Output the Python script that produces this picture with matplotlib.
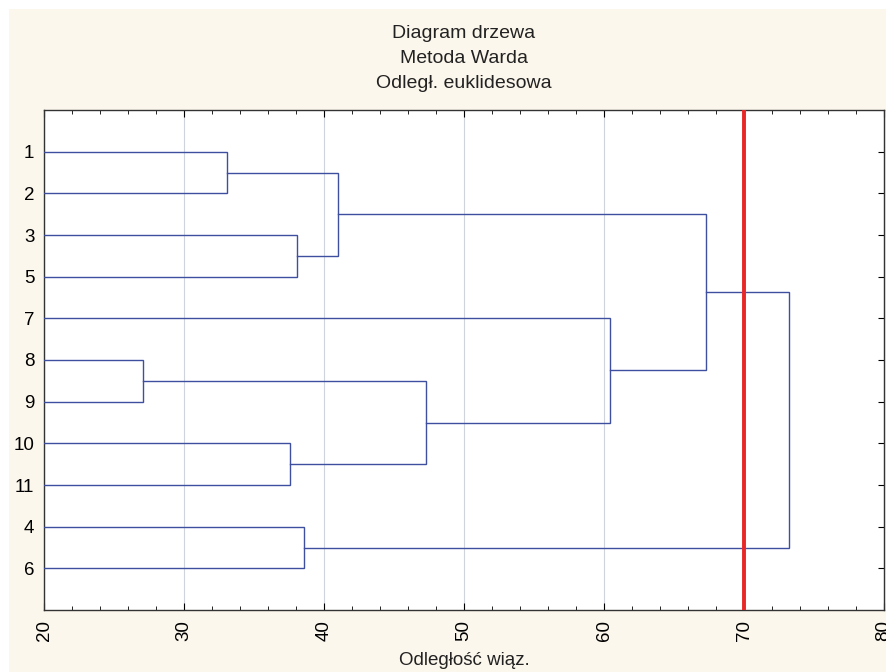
import matplotlib.pyplot as plt
from matplotlib.patches import Rectangle
from matplotlib.ticker import MultipleLocator

plt.rcParams["font.family"] = ["Liberation Sans", "DejaVu Sans"]

leaf_labels = ["1", "2", "3", "5", "7", "8", "9", "10", "11", "4", "6"]

# merges: left node, right node, linkage distance
# nodes: leaf labels or names of earlier merges
merge_names = ["A", "B", "C", "D", "E", "F", "G", "H", "I", "J"]
merge_left = ["1", "3", "A", "8", "10", "D", "7", "C", "4", "H"]
merge_right = ["2", "5", "B", "9", "11", "E", "F", "G", "6", "I"]
merge_dist = [33.1, 38.1, 41.0, 27.1, 37.6, 47.3, 60.4, 67.3, 38.6, 73.2]

cut_level = 70

lineBlue = "#3f4f9f"
cutRed = "#e82828"
cream = "#fcf7ec"

fig = plt.figure(figsize=(8.87, 6.72), dpi=100)
fig.patches.append(Rectangle((9 / 887, 0), 1, 1 - 9 / 672, transform=fig.transFigure,
                             facecolor=cream, edgecolor="none", zorder=-10))
ax = fig.add_axes([44 / 887, 1 - 610 / 672, 840 / 887, 500 / 672])

x_min = 20
pos = {}
height = {}
for i, lab in enumerate(leaf_labels):
    pos[lab] = i + 1
    height[lab] = x_min

for name, l, r, d in zip(merge_names, merge_left, merge_right, merge_dist):
    ax.plot([height[l], d, d, height[r]], [pos[l], pos[l], pos[r], pos[r]],
            color=lineBlue, linewidth=1.0, solid_joinstyle="miter", zorder=3)
    pos[name] = (pos[l] + pos[r]) / 2
    height[name] = d

ax.axvline(cut_level, color=cutRed, linewidth=2.8, zorder=4)

ax.set_xlim(20, 80)
ax.set_ylim(len(leaf_labels) + 1, 0)
ax.set_yticks(range(1, len(leaf_labels) + 1))
ax.set_yticklabels(leaf_labels, fontsize=13.5)
ax.xaxis.set_major_locator(MultipleLocator(10))
ax.xaxis.set_minor_locator(MultipleLocator(2))
ax.tick_params(axis="x", which="both", direction="in", top=True, labelsize=13.5,
               labelrotation=90, pad=7)
ax.tick_params(axis="x", which="major", length=5)
ax.tick_params(axis="x", which="minor", length=3)
ax.tick_params(axis="y", left=False, right=True, direction="in", length=4, pad=7)
ax.grid(axis="x", color="#cfd3dc", linewidth=0.8)
for sp in ax.spines.values():
    sp.set_color("#333333")
    sp.set_linewidth(1.0)

ax.set_title("Diagram drzewa\nMetoda Warda\nOdległ. euklidesowa",
             fontsize=14, linespacing=1.6, pad=16, color="#222222")
ax.set_xlabel("Odległość wiąz.", fontsize=13.5, labelpad=8, color="#222222")

fig.savefig("out.png", dpi=100)
